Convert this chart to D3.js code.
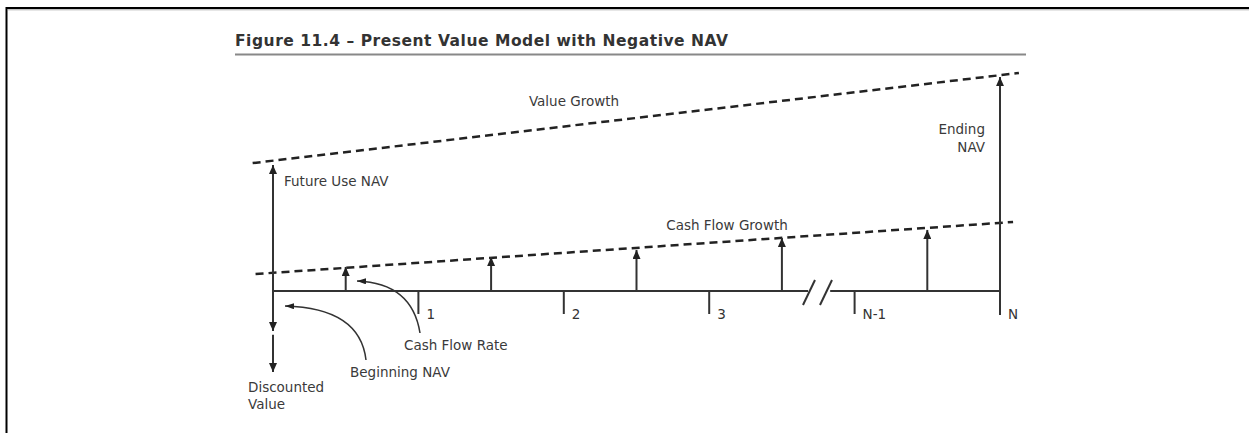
<!DOCTYPE html>
<html>
<head>
<meta charset="utf-8">
<script src="https://cdn.jsdelivr.net/npm/d3@7"></script>
<style>
  html, body { margin: 0; padding: 0; background: #fff; }
  svg { display: block; }
  text { font-family: "DejaVu Sans", sans-serif; }
</style>
</head>
<body>
<script>
// ---------------- data ----------------
const title = "Figure 11.4 \u2013 Present Value Model with Negative NAV";
const periodPositions = [1, 2, 3, 4, 5];
const periodLabels = ["1", "2", "3", "N-1", "N"];
const cashFlowPositions = [0.5, 1.5, 2.5, 3.5, 4.5];
const cashFlowValues = [11.2, 15.8, 19.1, 24.7, 28.4];
const valueGrowthLine = [[-0.14, 59.5], [5.13, 101.4]];
const cashFlowGrowthLine = [[-0.12, 7.9], [5.09, 32.1]];
const futureUseNAV = 58.6;
const endingNAV = 99.5;
const beginningNAV = -18.6;
const discountedValue = [-20.3, -37.7];
const breakPositions = [3.645, 3.762];
const annotationLabels = ["Value Growth", "Future Use NAV", "Cash Flow Growth", "Ending", "NAV",
  "Cash Flow Rate", "Beginning NAV", "Discounted", "Value"];

// ---------------- setup ----------------
const W = 1249, H = 433;
const ink = "#333";
const svg = d3.select("body").append("svg").attr("width", W).attr("height", H);

const x = d3.scaleLinear().domain([0, 5]).range([273, 1000]);
const y = d3.scaleLinear().domain([0, 100]).range([291, 76]);

const defs = svg.append("defs");
defs.append("marker").attr("id", "ah")
  .attr("viewBox", "0 -4 9 8").attr("refX", 9).attr("refY", 0)
  .attr("markerUnits", "userSpaceOnUse").attr("markerWidth", 9).attr("markerHeight", 8)
  .attr("orient", "auto")
  .append("path").attr("d", "M0,-4L9,0L0,4Z").attr("fill", "#222");
defs.append("marker").attr("id", "ahs")
  .attr("viewBox", "0 -3 9 6").attr("refX", 9).attr("refY", 0)
  .attr("markerUnits", "userSpaceOnUse").attr("markerWidth", 9).attr("markerHeight", 6)
  .attr("orient", "auto")
  .append("path").attr("d", "M0,-3L9,0L0,3Z").attr("fill", "#222");

// frame
svg.append("rect").attr("x", 6.5).attr("y", 8).attr("width", W + 10).attr("height", H + 10)
  .attr("fill", "none").attr("stroke", "#000").attr("stroke-width", 2);
svg.append("line").attr("x1", 8).attr("x2", W).attr("y1", 9.8).attr("y2", 9.8)
  .attr("stroke", "#aaa").attr("stroke-width", 1);

// title
svg.append("text").attr("x", 235).attr("y", 46).text(title)
  .attr("font-size", 15.5).attr("font-weight", "bold").attr("fill", "#333")
  .attr("textLength", 493).attr("lengthAdjust", "spacing");
svg.append("line").attr("x1", 235).attr("x2", 1026).attr("y1", 54.5).attr("y2", 54.5)
  .attr("stroke", "#888").attr("stroke-width", 2);

const line = d3.line().x(d => x(d[0])).y(d => y(d[1]));

// dashed growth lines
[valueGrowthLine, cashFlowGrowthLine].forEach(l => {
  svg.append("path").attr("d", line(l)).attr("fill", "none")
    .attr("stroke", "#222").attr("stroke-width", 2.5).attr("stroke-dasharray", "8,5");
});

// baseline (with break)
svg.append("path").attr("d", line([[0, 0], [breakPositions[0] + 0.035, 0]]))
  .attr("stroke", ink).attr("stroke-width", 2).attr("fill", "none");
svg.append("path").attr("d", line([[breakPositions[1] + 0.07, 0], [5, 0]]))
  .attr("stroke", ink).attr("stroke-width", 2).attr("fill", "none");
breakPositions.forEach(p => {
  svg.append("line")
    .attr("x1", x(p)).attr("y1", y(0) + 14)
    .attr("x2", x(p) + 12).attr("y2", y(0) - 11)
    .attr("stroke", ink).attr("stroke-width", 2);
});

// period ticks and labels
periodPositions.forEach((p, i) => {
  svg.append("line").attr("x1", x(p)).attr("x2", x(p))
    .attr("y1", y(0)).attr("y2", y(0) + 23)
    .attr("stroke", ink).attr("stroke-width", 2);
  svg.append("text").attr("x", x(p) + 8).attr("y", y(0) + 28)
    .attr("font-size", 13.5).attr("fill", "#333").text(periodLabels[i]);
});

// cash flow arrows
cashFlowPositions.forEach((p, i) => {
  svg.append("line").attr("x1", x(p)).attr("x2", x(p))
    .attr("y1", y(0)).attr("y2", y(cashFlowValues[i]))
    .attr("stroke", ink).attr("stroke-width", 2).attr("marker-end", "url(#ah)");
});

// future use NAV arrow
svg.append("line").attr("x1", x(0)).attr("x2", x(0)).attr("y1", y(0)).attr("y2", y(futureUseNAV))
  .attr("stroke", ink).attr("stroke-width", 2).attr("marker-end", "url(#ah)");
// ending NAV arrow
svg.append("line").attr("x1", x(5)).attr("x2", x(5)).attr("y1", y(0) + 24).attr("y2", y(endingNAV))
  .attr("stroke", ink).attr("stroke-width", 2).attr("marker-end", "url(#ah)");
// beginning NAV (negative) arrow
svg.append("line").attr("x1", x(0)).attr("x2", x(0)).attr("y1", y(0)).attr("y2", y(beginningNAV))
  .attr("stroke", ink).attr("stroke-width", 2).attr("marker-end", "url(#ah)");
// discounted value arrow
svg.append("line").attr("x1", x(0)).attr("x2", x(0)).attr("y1", y(discountedValue[0])).attr("y2", y(discountedValue[1]))
  .attr("stroke", ink).attr("stroke-width", 2).attr("marker-end", "url(#ah)");

// curved pointer arrows
svg.append("path").attr("d", "M366,360 Q360,308 285,306")
  .attr("fill", "none").attr("stroke", ink).attr("stroke-width", 1.5).attr("marker-end", "url(#ahs)");
svg.append("path").attr("d", "M420,333 Q412,283 357,281")
  .attr("fill", "none").attr("stroke", ink).attr("stroke-width", 1.5).attr("marker-end", "url(#ahs)");

// labels
const lab = (t, px, py, anchor) => svg.append("text").attr("x", px).attr("y", py)
  .attr("font-size", 13.5).attr("fill", "#3a3a3a").attr("text-anchor", anchor || "start").text(t);
lab(annotationLabels[0], 574, 106, "middle");
lab(annotationLabels[1], 284, 186);
lab(annotationLabels[2], 727, 230, "middle");
lab(annotationLabels[3], 985, 134, "end");
lab(annotationLabels[4], 985, 152, "end");
lab(annotationLabels[5], 404, 350);
lab(annotationLabels[6], 350, 377);
lab(annotationLabels[7], 248, 392);
lab(annotationLabels[8], 248, 409);
</script>
</body>
</html>
